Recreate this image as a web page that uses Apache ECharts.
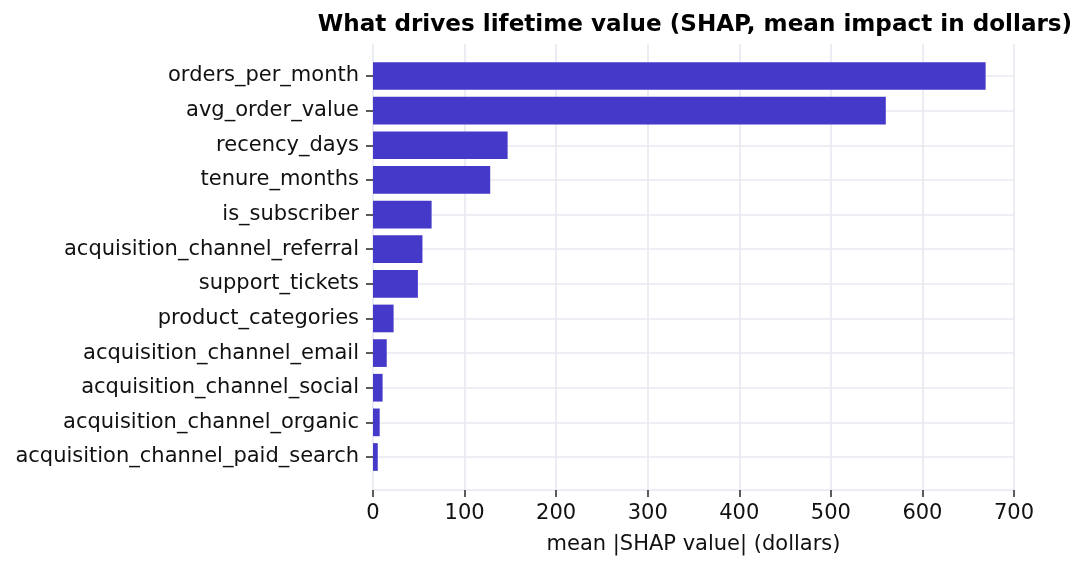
<!DOCTYPE html>
<html><head><meta charset="utf-8">
<script src="https://cdn.jsdelivr.net/npm/echarts@6/dist/echarts.min.js"></script>
<style>html,body{margin:0;padding:0;background:#fff}#c{width:1086px;height:569px}</style>
</head><body><div id="c"></div>
<script>
const features = ["orders_per_month","avg_order_value","recency_days","tenure_months","is_subscriber","acquisition_channel_referral","support_tickets","product_categories","acquisition_channel_email","acquisition_channel_social","acquisition_channel_organic","acquisition_channel_paid_search"];
const meanShap = [669, 560, 147, 128, 64, 54, 49, 22.5, 15, 10.5, 7.3, 5.2];
const xTicks = [0, 100, 200, 300, 400, 500, 600, 700];

const FONT = "DejaVu Sans";
const GRID = "#e8e9f1";
const chart = echarts.init(document.getElementById('c'), null, {renderer:'canvas'});
chart.setOption({
  backgroundColor:'#ffffff',
  animation:false,
  title:{text:"What drives lifetime value (SHAP, mean impact in dollars)", left:690, textAlign:'center', top:8,
    textStyle:{fontFamily:FONT, fontWeight:'bold', fontSize:23.1, color:'#000'}},
  grid:[
    {left:373, right:72, top:76, bottom:569-457},
    {left:373, right:72, top:44, bottom:569-490}
  ],
  xAxis:[
    {gridIndex:0, type:'value', min:xTicks[0], max:xTicks[xTicks.length-1], interval:100, show:false},
    {gridIndex:1, type:'value', min:xTicks[0], max:xTicks[xTicks.length-1], interval:100,
     name:"mean |SHAP value| (dollars)", nameLocation:'middle', nameGap:44,
     nameTextStyle:{fontFamily:FONT, fontSize:21, color:'#111'},
     axisLine:{show:true, lineStyle:{color:GRID, width:1.5}},
     axisTick:{show:true, length:7, lineStyle:{color:'#333', width:1.6}},
     axisLabel:{fontFamily:FONT, fontSize:21, color:'#111', margin:13},
     splitLine:{show:true, lineStyle:{color:GRID, width:1.6}}}
  ],
  yAxis:[
    {gridIndex:0, type:'category', data:features, inverse:true, boundaryGap:false,
     axisLine:{show:false},
     axisTick:{show:true, length:7, lineStyle:{color:'#333', width:1.6}},
     axisLabel:{fontFamily:FONT, fontSize:21, color:'#111', margin:14, padding:[5,0,0,0]},
     splitLine:{show:true, lineStyle:{color:GRID, width:1.6}}},
    {gridIndex:1, type:'value', show:false}
  ],
  series:[
    {type:'bar', xAxisIndex:0, yAxisIndex:0, data:meanShap, barWidth:27.7,
     itemStyle:{color:'#4539c9'}}
  ]
});
</script></body></html>
